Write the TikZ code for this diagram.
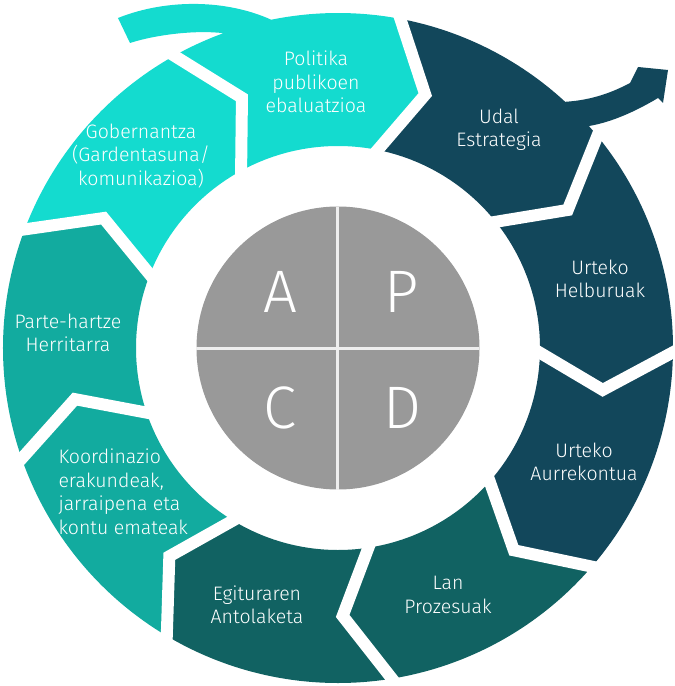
\documentclass[tikz,border=0pt]{standalone}
\usepackage{fontspec}
\setmainfont{Fira Sans}[UprightFont=* Light]
\definecolor{aquaseg}{HTML}{14DBCF}
\definecolor{tealseg}{HTML}{12AB9F}
\definecolor{pineseg}{HTML}{116262}
\definecolor{navyseg}{HTML}{12475B}
\definecolor{pdcagray}{HTML}{999999}
\definecolor{pdcaline}{HTML}{EEEEEE}
\newcommand{\segin}{202}
\newcommand{\segmid}{268}
\newcommand{\segout}{335}
\tikzstyle{segtext}=[text=white, align=center, font=\fontsize{19.5}{23.5}\selectfont]
\tikzstyle{letter}=[text=white, font=\fontsize{60}{60}\selectfont]
\tikzstyle{gap}=[white, line width=12pt]

\begin{document}
\begin{tikzpicture}[x=1pt, y=1pt]
  \useasboundingbox (-338,-338) rectangle (337,348);
  % plain chevrons, clockwise
  \foreach \a/\c in {40/navyseg, 0/navyseg, -40/pineseg, -80/pineseg,
                     -120/tealseg, -160/tealseg, -200/aquaseg}
    \fill[\c] ({\a}:\segin) -- ({\a-9}:\segmid) -- ({\a}:\segout)
      arc[start angle=\a, end angle=\a-40, radius=\segout]
      -- ({\a-49}:\segmid) -- ({\a-40}:\segin)
      arc[start angle=\a-40, end angle=\a, radius=\segin] -- cycle;
  % Udal Estrategia, with the outgoing arrow
  \fill[navyseg] (80:\segin) -- (71:\segmid) -- (80:\segout)
    arc[start angle=80, end angle=47.3, radius=\segout]
    .. controls (255,248) and (275,256) .. (292,265)
    -- (300,281) -- (330,278) -- (325,245) -- (320,250)
    .. controls (300,238) and (275,226) .. (41.5:\segout)
    arc[start angle=41.5, end angle=40, radius=\segout]
    -- (31:\segmid) -- (40:\segin)
    arc[start angle=40, end angle=80, radius=\segin] -- cycle;
  % Politika, with the incoming tail
  \fill[aquaseg] (120:\segin) -- (111:\segmid) -- (120:\segout)
    arc[start angle=120, end angle=110, radius=\segout]
    .. controls (-140,318) and (-180,314) .. (-208,305)
    -- (-220,330)
    .. controls (-170,350) and (-110,348) .. (101.5:\segout)
    arc[start angle=101.5, end angle=80, radius=\segout]
    -- (71:\segmid) -- (80:\segin)
    arc[start angle=80, end angle=120, radius=\segin] -- cycle;
  % white gaps
  \foreach \a in {80,40,...,-240}
    \draw[gap] ({\a}:194) -- ({\a-9}:\segmid) -- ({\a}:343);

  % PDCA
  \node[circle, fill=pdcagray, minimum size=283pt, inner sep=0pt, outer sep=0pt] (pdca) at (0,0) {};
  \draw[pdcaline, line width=3pt] (pdca.west) -- (pdca.east);
  \draw[pdcaline, line width=3pt] (pdca.north) -- (pdca.south);
  \node[letter] (act) at (-58,56) {A};
  \node[letter] (plan) at (64,56) {P};
  \node[letter] (check) at (-58,-60) {C};
  \node[letter] (do) at (64,-60) {D};

  \node[segtext] (politika) at (-22,266) {Politika\\publikoen\\ebaluatzioa};
  \node[segtext] (udal) at (161,218) {Udal\\Estrategia};
  \node[segtext] (helburuak) at (262,69) {Urteko\\Helburuak};
  \node[segtext] (aurrekontua) at (246,-114) {Urteko\\Aurrekontua};
  \node[segtext] (lan) at (110,-247) {Lan\\Prozesuak};
  \node[segtext] (egitura) at (-81,-257) {Egituraren\\Antolaketa};
  \node[segtext, align=left, anchor=west] (koordinazio) at (-283,-144)
    {Koordinazio\\erakundeak,\\jarraipena eta\\kontu emateak};
  \node[segtext] (partehartze) at (-270,15) {Parte-hartze\\Herritarra};
  \node[segtext] (gobernantza) at (-197,192) {Gobernantza\\(Gardentasuna/\\komunikazioa)};
\end{tikzpicture}
\end{document}
